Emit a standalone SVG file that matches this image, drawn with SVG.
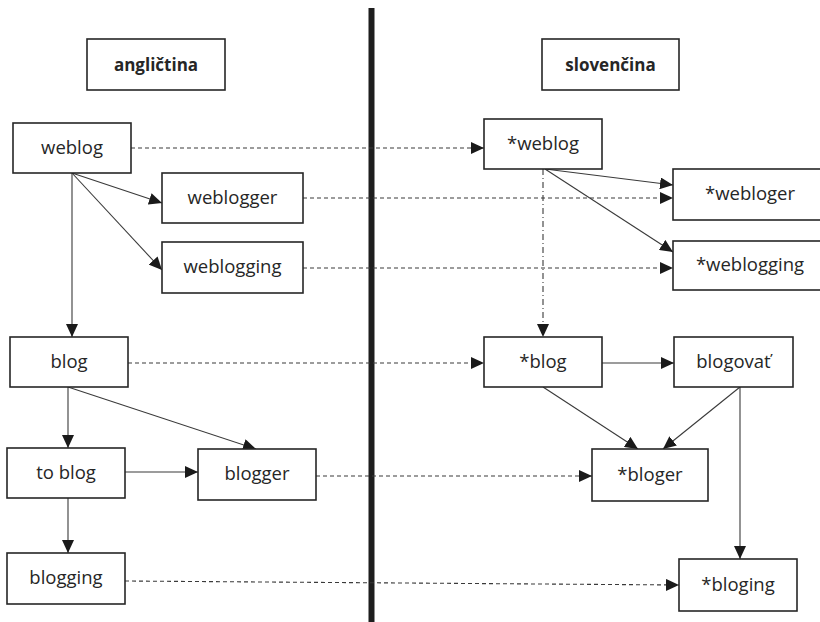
<svg xmlns="http://www.w3.org/2000/svg" width="820" height="622" viewBox="0 0 820 622">
<style>
.box{fill:#fff;stroke:#262626;stroke-width:1.6}
.t{font-family:"Open Sans","Liberation Sans",sans-serif;font-size:18.5px;fill:#262626;text-anchor:middle}
.h{font-family:"Open Sans","Liberation Sans",sans-serif;font-size:17px;font-weight:bold;fill:#262626;text-anchor:middle}
.s{stroke:#3a3a3a;stroke-width:1.1;fill:none;marker-end:url(#ah)}
.d{stroke:#3a3a3a;stroke-width:1.1;fill:none;stroke-dasharray:4 3;marker-end:url(#ah)}
.dd{stroke:#3a3a3a;stroke-width:1.1;fill:none;stroke-dasharray:6 3 1 3;marker-end:url(#ah)}
</style>
<defs>
<marker id="ah" markerUnits="userSpaceOnUse" markerWidth="13" markerHeight="12" refX="13" refY="6" orient="auto">
<path d="M0,0 L13,6 L0,12 z" fill="#1a1a1a"/>
</marker>
</defs>
<rect width="820" height="622" fill="#fff"/>
<line x1="371.5" y1="8" x2="371.5" y2="622" stroke="#1e1e1e" stroke-width="6"/>
<g id="connectors">
<path class="d" d="M131,148 L484,148"/>
<path class="d" d="M303,198 L673,198"/>
<path class="d" d="M303,268 L673,268"/>
<path class="d" d="M128,363 L484,363"/>
<path class="d" d="M316,476 L592,476"/>
<path class="d" d="M125,581 L679,585"/>
<path class="s" d="M72,173 L162,203"/>
<path class="s" d="M72,173 L162,270"/>
<path class="s" d="M72,173 L72,337"/>
<path class="s" d="M68,387 L68,448"/>
<path class="s" d="M68,387 L256,449"/>
<path class="s" d="M125,472 L198,472"/>
<path class="s" d="M68,498 L68,553"/>
<path class="s" d="M545,169 L673,185"/>
<path class="s" d="M545,169 L673,252"/>
<path class="dd" d="M543,169 L543,337"/>
<path class="s" d="M602,363 L674,363"/>
<path class="s" d="M543,387 L638,449"/>
<path class="s" d="M740,387 L663,449"/>
<path class="s" d="M740,387 L740,559"/>
</g>
<g id="angl"><rect class="box" x="87" y="39" width="138" height="51"/><text class="h" x="156" y="71">angličtina</text></g>
<g id="slov"><rect class="box" x="542" y="39" width="137" height="51"/><text class="h" x="610.5" y="71">slovenčina</text></g>
<g id="weblog"><rect class="box" x="13" y="123" width="118" height="50"/><text class="t" x="72" y="154">weblog</text></g>
<g id="weblogger"><rect class="box" x="162" y="173" width="141" height="50"/><text class="t" x="232.5" y="204">weblogger</text></g>
<g id="weblogging"><rect class="box" x="162" y="242" width="141" height="51"/><text class="t" x="232.5" y="273">weblogging</text></g>
<g id="blog"><rect class="box" x="10" y="337" width="118" height="50"/><text class="t" x="69" y="368">blog</text></g>
<g id="toblog"><rect class="box" x="7" y="448" width="118" height="50"/><text class="t" x="66" y="479">to blog</text></g>
<g id="blogger"><rect class="box" x="198" y="449" width="118" height="51"/><text class="t" x="257" y="480">blogger</text></g>
<g id="blogging"><rect class="box" x="7" y="553" width="118" height="51"/><text class="t" x="66" y="584">blogging</text></g>
<g id="sweblog"><rect class="box" x="484" y="119" width="118" height="50"/><text class="t" x="543" y="150">*weblog</text></g>
<g id="swebloger"><rect class="box" x="673" y="169" width="160" height="51"/><text class="t" x="750" y="200">*webloger</text></g>
<g id="sweblogging"><rect class="box" x="673" y="241" width="160" height="49"/><text class="t" x="750" y="271">*weblogging</text></g>
<g id="sblog"><rect class="box" x="484" y="337" width="118" height="50"/><text class="t" x="543" y="368">*blog</text></g>
<g id="blogovat"><rect class="box" x="674" y="337" width="119" height="50"/><text class="t" x="733.5" y="368">blogovať</text></g>
<g id="sbloger"><rect class="box" x="592" y="449" width="116" height="52"/><text class="t" x="650" y="481">*bloger</text></g>
<g id="sbloging"><rect class="box" x="679" y="559" width="118" height="52"/><text class="t" x="738" y="591">*bloging</text></g>
</svg>
